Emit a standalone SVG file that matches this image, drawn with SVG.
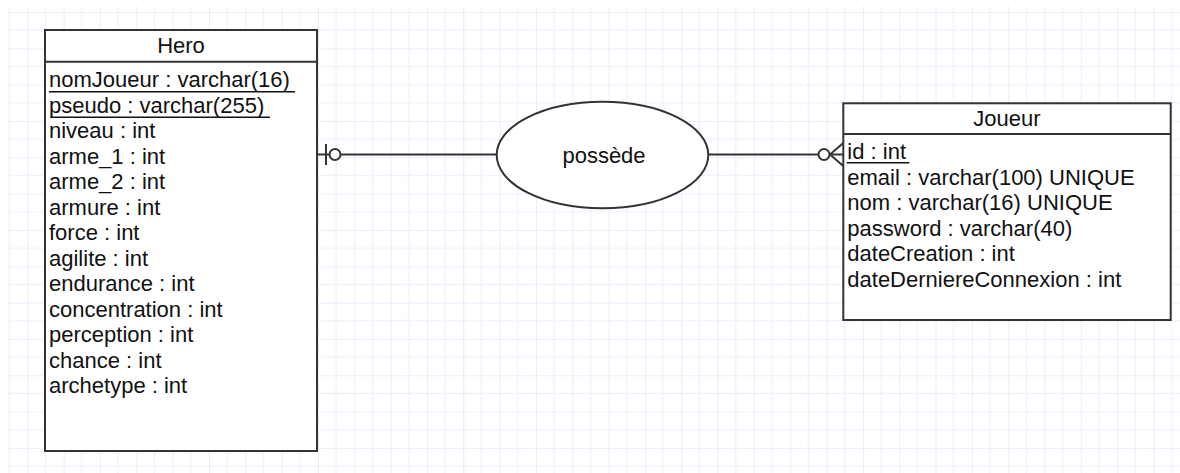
<svg xmlns="http://www.w3.org/2000/svg" width="1180" height="473" viewBox="0 0 1180 473">
  <style>
    .box { fill: #ffffff; stroke: #333333; stroke-width: 2; }
    .sep { stroke: #333333; stroke-width: 2; }
    .t { font-family: "Liberation Sans", Arial, sans-serif; font-size: 22px; fill: #111111; }
    .title { text-anchor: middle; }
    .ul { stroke: #111111; stroke-width: 1.6; }
    .conn { stroke: #333333; stroke-width: 2; fill: none; }
    .end { stroke: #333333; stroke-width: 2; fill: #ffffff; }
  </style>
  <defs>
    <pattern id="gridPat" patternUnits="userSpaceOnUse" x="27.3" y="12" width="36.33" height="36.33">
      <line x1="18.17" y1="0" x2="18.17" y2="36.33" stroke="#f1f1fd" stroke-width="1.6"/>
      <line x1="0" y1="18.17" x2="36.33" y2="18.17" stroke="#f1f1fd" stroke-width="1.6"/>
      <line x1="0" y1="0" x2="0" y2="36.33" stroke="#e6e6fb" stroke-width="1.6"/>
      <line x1="0" y1="0" x2="36.33" y2="0" stroke="#e6e6fb" stroke-width="1.6"/>
    </pattern>
  </defs>
  <rect x="0" y="0" width="1180" height="473" fill="#ffffff"/>
  <g id="grid">
    <rect x="8" y="6.5" width="1172" height="466.5" fill="url(#gridPat)"/>
  </g>

  <g id="connectors">
    <line class="conn" x1="317" y1="154.5" x2="497" y2="154.5"/>
    <line class="conn" x1="326" y1="144" x2="326" y2="165"/>
    <circle class="end" cx="335" cy="154.5" r="5.5"/>
    <line class="conn" x1="708" y1="154.5" x2="843" y2="154.5"/>
    <circle class="end" cx="824" cy="154.5" r="5.5"/>
    <polyline class="conn" points="843.3,143 830,154.5 843.3,166"/>
  </g>

  <g id="node-hero">
    <rect class="box" x="45" y="30" width="272" height="421"/>
    <line class="sep" x1="45" y1="61.7" x2="317" y2="61.7"/>
    <text class="t title" x="181" y="53.3">Hero</text>
    <text class="t" x="49" y="87.3">nomJoueur : varchar(16)</text>
    <line class="ul" x1="49" y1="91.7" x2="295" y2="91.7"/>
    <text class="t" x="49" y="112.8">pseudo : varchar(255)</text>
    <line class="ul" x1="50.5" y1="117.3" x2="270" y2="117.3"/>
    <text class="t" x="49" y="138.3">niveau : int</text>
    <text class="t" x="49" y="163.8">arme_1 : int</text>
    <text class="t" x="49" y="189.3">arme_2 : int</text>
    <text class="t" x="49" y="214.8">armure : int</text>
    <text class="t" x="49" y="240.3">force : int</text>
    <text class="t" x="49" y="265.8">agilite : int</text>
    <text class="t" x="49" y="291.3">endurance : int</text>
    <text class="t" x="49" y="316.8">concentration : int</text>
    <text class="t" x="49" y="342.3">perception : int</text>
    <text class="t" x="49" y="367.8">chance : int</text>
    <text class="t" x="49" y="393.3">archetype : int</text>
  </g>

  <g id="node-possede">
    <ellipse class="box" cx="602.5" cy="155" rx="105.8" ry="53.3"/>
    <text class="t title" x="604" y="162.7">possède</text>
  </g>

  <g id="node-joueur">
    <rect class="box" x="843.3" y="103.3" width="327.4" height="216.7"/>
    <line class="sep" x1="843.3" y1="134" x2="1170.7" y2="134"/>
    <text class="t title" x="1007" y="125.7">Joueur</text>
    <text class="t" x="847.3" y="159.3">id : int</text>
    <line class="ul" x1="846.7" y1="162.7" x2="909.3" y2="162.7"/>
    <text class="t" x="847.3" y="184.8">email : varchar(100) UNIQUE</text>
    <text class="t" x="847.3" y="210.3">nom : varchar(16) UNIQUE</text>
    <text class="t" x="847.3" y="235.8">password : varchar(40)</text>
    <text class="t" x="847.3" y="261.3">dateCreation : int</text>
    <text class="t" x="847.3" y="286.8">dateDerniereConnexion : int</text>
  </g>
</svg>
